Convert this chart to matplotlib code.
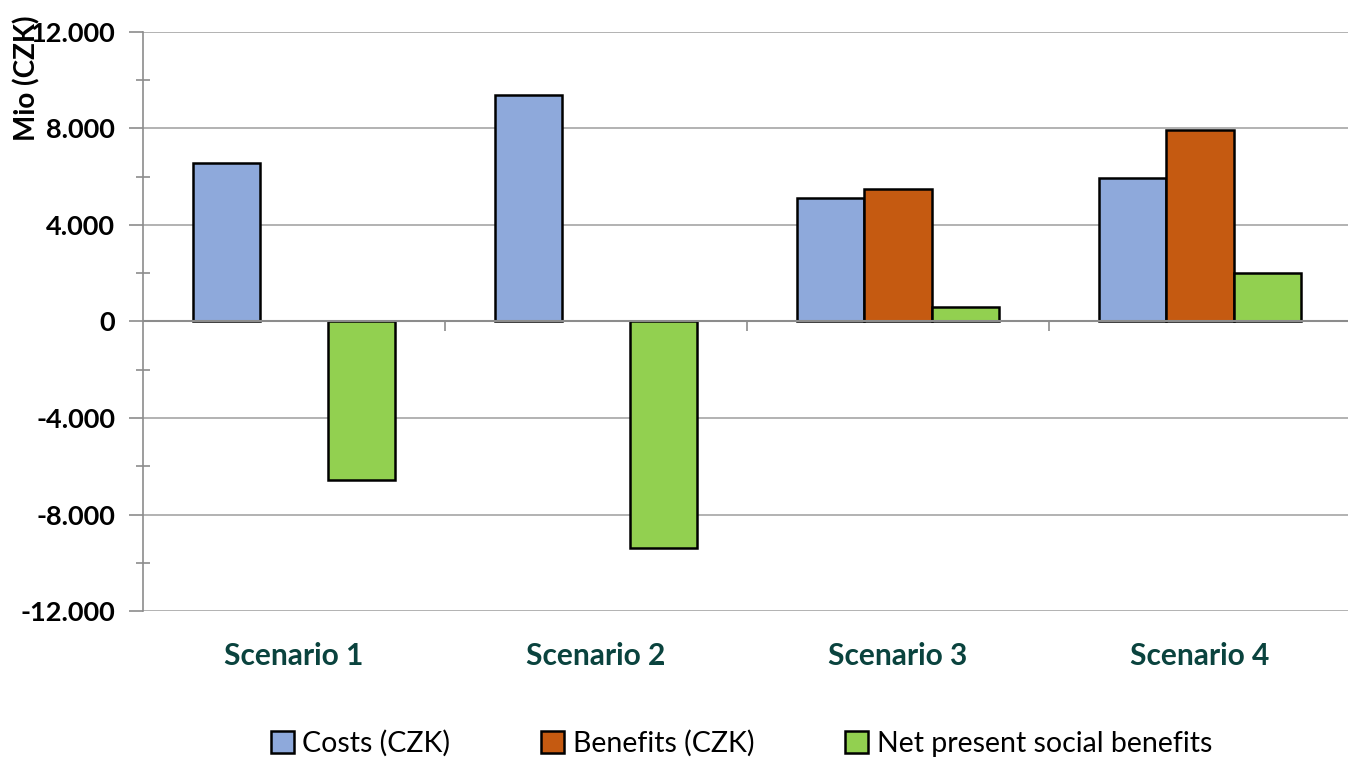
import numpy as np
import matplotlib
matplotlib.use("Agg")
import matplotlib.pyplot as plt
from matplotlib.ticker import MultipleLocator, FuncFormatter

# Datos (Mio CZK)
scenarios = ["Scenario 1", "Scenario 2", "Scenario 3", "Scenario 4"]
costs = [6550, 9400, 5100, 5930]
benefits = [0, 0, 5500, 7930]
net_benefits = [-6550, -9400, 620, 2000]
series_names = ["Costs (CZK)", "Benefits (CZK)", "Net present social benefits"]
colors = ["#8EA9DB", "#C55A11", "#92D050"]

plt.rcParams["font.family"] = ["Lato", "DejaVu Sans"]

fig = plt.figure(figsize=(13.48, 7.63), dpi=100)
ax = fig.add_axes([0.1061, 0.1992, 0.8961, 0.7589])

x = np.arange(len(scenarios))
w = 0.224
handles = []
for i, (vals, name, col) in enumerate(zip([costs, benefits, net_benefits], series_names, colors)):
    nonzero = [v != 0 for v in vals]
    xs = x[nonzero] + (i - 1) * w
    vs = np.array(vals)[nonzero]
    b = ax.bar(xs, vs, width=w, color=col, edgecolor="black", linewidth=1.8, zorder=3, label=name)
    handles.append(b)

# Ejes
ax.set_xlim(-0.5, len(scenarios) - 0.5)
ax.set_ylim(-12000, 12000)
ax.yaxis.set_major_locator(MultipleLocator(4000))
ax.yaxis.set_minor_locator(MultipleLocator(2000))
ax.yaxis.set_major_formatter(FuncFormatter(lambda v, p: f"{int(v):,}".replace(",", ".")))
ax.grid(axis="y", which="major", color="#A6A6A6", linewidth=1.2, zorder=0)
ax.tick_params(axis="y", which="major", length=10, width=1.2, color="#8C8C8C", labelsize=19.5, pad=10)
ax.tick_params(axis="y", which="minor", length=10, width=1.2, color="#8C8C8C", direction="inout")
for lab in ax.get_yticklabels():
    lab.set_fontweight("bold")

ax.set_xticks(x)
ax.set_xticklabels(scenarios, fontsize=21.5, fontweight="bold", color="#0A433E")
ax.tick_params(axis="x", length=0, pad=22)

for s in ["top", "right", "bottom"]:
    ax.spines[s].set_visible(False)
ax.spines["left"].set_color("#8C8C8C")
ax.spines["left"].set_linewidth(1.2)

# Línea de cero con marcas entre categorías
ax.axhline(0, color="#8C8C8C", linewidth=1.5, zorder=4)
ax.vlines(x[1:] - 0.5, -400, 0, color="#8C8C8C", linewidth=1.2, zorder=4)

ax.set_ylabel("Mio (CZK)", fontsize=20, fontweight="bold")
ax.yaxis.set_label_coords(-0.085, 0.92)

fig.legend(handles=handles, labels=series_names, loc="center", bbox_to_anchor=(0.55, 0.026),
           ncol=3, frameon=False, fontsize=20.5, handlelength=0.8, handleheight=0.8,
           handletextpad=0.3, columnspacing=3.2)

fig.savefig("out.png", dpi=100)
